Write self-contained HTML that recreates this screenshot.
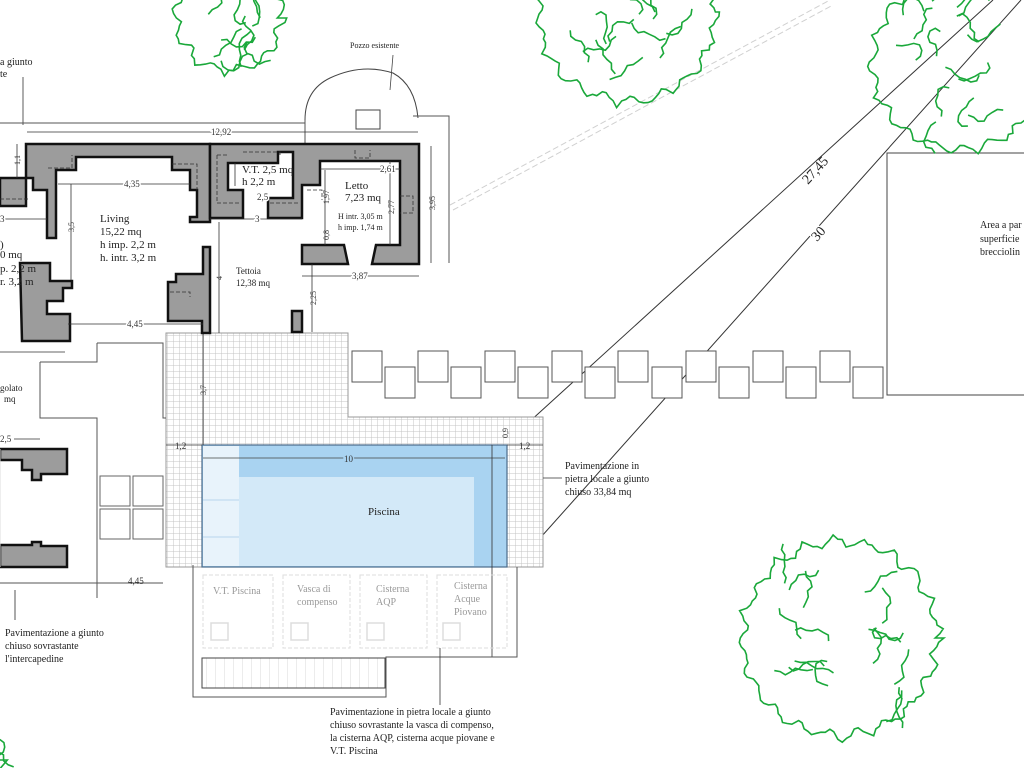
<!DOCTYPE html>
<html><head><meta charset="utf-8"><style>
html,body{margin:0;padding:0;background:#fff;}
svg{display:block;font-family:"Liberation Serif",serif;}
</style></head><body>
<svg id="s" width="1024" height="768" viewBox="0 0 1024 768" xmlns="http://www.w3.org/2000/svg">
<defs>
<pattern id="grid" width="6" height="6" patternUnits="userSpaceOnUse">
<rect width="6" height="6" fill="#fff"/>
<path d="M6 0V6M0 6H6" stroke="#c4c4c4" stroke-width="1"/>
</pattern>
<pattern id="grid2" width="9" height="30" patternUnits="userSpaceOnUse">
<path d="M9 0V30" stroke="#d8d8d8" stroke-width="1"/>
</pattern>
</defs>

<g stroke="#d0d0d0" stroke-width="1" stroke-dasharray="6,3" fill="none">
<line x1="450" y1="205" x2="830" y2="0"/>
<line x1="453" y1="210" x2="833" y2="5"/>
</g>

<g stroke="#333" stroke-width="1" fill="none">
<line x1="506" y1="443" x2="993" y2="0"/>
<line x1="516" y1="565" x2="1021" y2="0"/>
</g>
<text x="0" y="0" font-size="14" transform="translate(808,185) rotate(-48)" fill="#222">27,45</text>
<rect x="810" y="222" width="14" height="22" fill="#fff" transform="rotate(-48 817 233)"/>
<text x="0" y="0" font-size="14" transform="translate(817,242) rotate(-48)" fill="#222">30</text>

<rect x="887" y="153" width="150" height="242" fill="none" stroke="#444" stroke-width="1"/>
<text font-size="10" fill="#222"><tspan x="980" y="228">Area a par</tspan><tspan x="980" y="242">superficie</tspan><tspan x="980" y="255">brecciolin</tspan></text>

<g fill="#fff" stroke="#555" stroke-width="1">
<rect x="352" y="351" width="30" height="31"/><rect x="385" y="367" width="30" height="31"/>
<rect x="418" y="351" width="30" height="31"/><rect x="451" y="367" width="30" height="31"/>
<rect x="485" y="351" width="30" height="31"/><rect x="518" y="367" width="30" height="31"/>
<rect x="552" y="351" width="30" height="31"/><rect x="585" y="367" width="30" height="31"/>
<rect x="618" y="351" width="30" height="31"/><rect x="652" y="367" width="30" height="31"/>
<rect x="686" y="351" width="30" height="31"/><rect x="719" y="367" width="30" height="31"/>
<rect x="753" y="351" width="30" height="31"/><rect x="786" y="367" width="30" height="31"/>
<rect x="820" y="351" width="30" height="31"/><rect x="853" y="367" width="30" height="31"/>
</g>

<path d="M166 333H348V417H543V567H505V445H203V567H166Z" fill="url(#grid)" stroke="#999" stroke-width="1"/>

<rect x="202" y="445" width="305" height="122" fill="#a9d3f1" stroke="#4a6a8a" stroke-width="1.2"/>
<rect x="239" y="477" width="235" height="89" fill="#d3e9f8"/>
<rect x="203" y="446" width="36" height="120" fill="#e8f3fb"/>
<line x1="203" y1="500" x2="239" y2="500" stroke="#b8d6ee"/>
<line x1="203" y1="537" x2="239" y2="537" stroke="#b8d6ee"/>
<line x1="203" y1="458" x2="505" y2="458" stroke="#444" stroke-width="0.8"/>
<text x="344" y="462" font-size="9" fill="#333" style="paint-order:stroke" stroke="#a9d3f1" stroke-width="3">10</text>
<line x1="492" y1="445" x2="492" y2="657" stroke="#333" stroke-width="0.8"/>
<text x="368" y="515" font-size="11" fill="#222">Piscina</text>
<text x="175" y="449" font-size="9" fill="#333">1,2</text>
<line x1="166" y1="445" x2="202" y2="445" stroke="#333" stroke-width="0.8"/>
<text x="519" y="449" font-size="9" fill="#333">1,2</text>
<line x1="507" y1="445" x2="543" y2="445" stroke="#333" stroke-width="0.8"/>
<text x="0" y="0" font-size="8" transform="translate(508,438) rotate(-90)" fill="#333">0,9</text>
<text x="0" y="0" font-size="8" transform="translate(206,395) rotate(-90)" fill="#333">3,7</text>
<line x1="203" y1="333" x2="203" y2="445" stroke="#333" stroke-width="0.8"/>

<g fill="none" stroke="#ddd" stroke-width="1" stroke-dasharray="4,2">
<rect x="203" y="575" width="70" height="73"/><rect x="283" y="575" width="67" height="73"/>
<rect x="360" y="575" width="67" height="73"/><rect x="437" y="575" width="70" height="73"/>
</g>
<g fill="none" stroke="#ddd" stroke-width="1.5">
<rect x="211" y="623" width="17" height="17"/><rect x="291" y="623" width="17" height="17"/>
<rect x="367" y="623" width="17" height="17"/><rect x="443" y="623" width="17" height="17"/>
</g>
<g font-size="10" fill="#999">
<text x="213" y="594">V.T. Piscina</text>
<text x="297" y="592">Vasca di</text><text x="297" y="605">compenso</text>
<text x="376" y="592">Cisterna</text><text x="376" y="605">AQP</text>
<text x="454" y="589">Cisterna</text><text x="454" y="602">Acque</text><text x="454" y="615">Piovano</text>
</g>
<path d="M193 565V697H386V657H517V567" fill="none" stroke="#555" stroke-width="1"/>
<rect x="202" y="658" width="183" height="30" fill="url(#grid2)" stroke="#444" stroke-width="1"/>
<line x1="440" y1="648" x2="440" y2="705" stroke="#333" stroke-width="0.8"/>
<text font-size="10" fill="#222"><tspan x="330" y="715">Pavimentazione in pietra locale a giunto</tspan><tspan x="330" y="728">chiuso sovrastante la vasca di compenso,</tspan><tspan x="330" y="741">la cisterna AQP, cisterna acque piovane e</tspan><tspan x="330" y="754">V.T. Piscina</tspan></text>
<line x1="543" y1="478" x2="562" y2="478" stroke="#333" stroke-width="0.8"/>
<text font-size="10" fill="#222"><tspan x="565" y="469">Pavimentazione in</tspan><tspan x="565" y="482">pietra locale a giunto</tspan><tspan x="565" y="495">chiuso 33,84 mq</tspan></text>

<g fill="none" stroke="#555" stroke-width="1">
<path d="M97 343H163V418H166"/>
<path d="M40 362V418H97V598"/>
<path d="M97 343V362H40"/>
<line x1="0" y1="583" x2="163" y2="583"/>
<line x1="15" y1="590" x2="15" y2="620"/>
</g>
<g fill="#fff" stroke="#666" stroke-width="1">
<rect x="100" y="476" width="30" height="30"/><rect x="133" y="476" width="30" height="30"/>
<rect x="100" y="509" width="30" height="30"/><rect x="133" y="509" width="30" height="30"/>
</g>
<text x="128" y="584" font-size="9" fill="#333">4,45</text>
<text x="0" y="442" font-size="9" fill="#333">2,5</text>
<line x1="14" y1="439" x2="40" y2="439" stroke="#333" stroke-width="0.8"/>
<text font-size="9" fill="#222"><tspan x="0" y="391">golato</tspan><tspan x="4" y="402">mq</tspan></text>
<g fill="#9c9c9c" stroke="#111" stroke-width="2.5">
<path d="M0 449H67V474H41V480H32V470H22V460H0Z"/>
<path d="M0 545H32V542H41V546H67V567H0Z"/>
</g>
<line x1="0" y1="449" x2="0" y2="567" stroke="#ddd"/>
<text font-size="10" fill="#222"><tspan x="5" y="636">Pavimentazione a giunto</tspan><tspan x="5" y="649">chiuso sovrastante</tspan><tspan x="5" y="662">l'intercapedine</tspan></text>

<path d="M305 120 Q305 90 330 78 Q362 63 393 73 Q415 85 418 118" fill="none" stroke="#444" stroke-width="1"/>
<rect x="356" y="110" width="24" height="19" fill="none" stroke="#444"/>
<line x1="393" y1="55" x2="390" y2="90" stroke="#444" stroke-width="0.8"/>
<text x="350" y="48" font-size="8" fill="#222">Pozzo esistente</text>
<path d="M413 116H449V263" fill="none" stroke="#555"/>
<line x1="305" y1="120" x2="305" y2="143" stroke="#555"/>

<text font-size="10" fill="#222"><tspan x="0" y="65">a giunto</tspan><tspan x="0" y="77">te</tspan></text>
<line x1="23" y1="77" x2="23" y2="125" stroke="#333" stroke-width="0.8"/>
<line x1="0" y1="123" x2="305" y2="123" stroke="#555"/>
<line x1="27" y1="132" x2="418" y2="132" stroke="#333" stroke-width="0.8"/>
<text x="211" y="135" font-size="9" fill="#333" style="paint-order:stroke" stroke="#fff" stroke-width="3">12,92</text>

<g fill="#9c9c9c" stroke="#111" stroke-width="2.5" stroke-linejoin="miter">
<path d="M26 144H210V222H190V217H197V190H190V170H172V157H76V170H56V238H47V190H33V178H0V206H26Z"/>
<path d="M203 247H210V333H202V321H168V282H176V274H203Z"/>
<path d="M20 263H50V281H72V288H63V301H47V314H70V341H22Z" />
<path d="M210 144H419V264H372L376 245H400V161H320V185H302V218H268V198H293V152H278V163H228V190H243V218H210Z"/>
<path d="M302 245H344L348 264H302Z"/>
<rect x="292" y="311" width="10" height="21"/>
</g>
<g fill="none" stroke="#333" stroke-width="0.8" stroke-dasharray="4,2">
<path d="M48 168H72V155"/>
<path d="M172 164H197V190"/>
<path d="M217 155H228M217 155V203H240"/>
<path d="M243 152H280V155M270 203H300"/>
<path d="M355 150V158H370V150"/>
<path d="M400 196H413V213H400"/>
<path d="M307 190H322V200"/>
<path d="M170 292H190V297"/>
<path d="M0 199H30"/>
</g>

<g stroke="#333" stroke-width="0.8">
<line x1="58" y1="184" x2="190" y2="184"/>
<line x1="71" y1="184" x2="71" y2="280"/>
<line x1="210" y1="219" x2="302" y2="219"/>
<line x1="219" y1="222" x2="219" y2="333"/>
<line x1="68" y1="324" x2="203" y2="324"/>
<line x1="0" y1="219" x2="47" y2="219"/>
<line x1="320" y1="169" x2="400" y2="169"/>
<line x1="325" y1="170" x2="325" y2="245"/>
<line x1="390" y1="161" x2="390" y2="245"/>
<line x1="302" y1="276" x2="419" y2="276"/>
<line x1="431" y1="146" x2="431" y2="263"/>
<line x1="312" y1="264" x2="312" y2="332"/>
<line x1="17" y1="144" x2="17" y2="178"/>
<line x1="0" y1="352" x2="65" y2="352"/>
<line x1="235" y1="163" x2="235" y2="186"/>
</g>
<g font-size="9" fill="#333" style="paint-order:stroke" stroke="#fff" stroke-width="3">
<text x="124" y="187">4,35</text>
<text x="255" y="222">3</text>
<text x="127" y="327">4,45</text>
<text x="0" y="222">3</text>
<text x="380" y="172">2,61</text>
<text x="352" y="279">3,87</text>
<text x="257" y="200">2,5</text>
</g>
<g font-size="8" fill="#333">
<text transform="translate(74,232) rotate(-90)">3,5</text>
<text transform="translate(222,280) rotate(-90)">4</text>
<text transform="translate(329,204) rotate(-90)">1,97</text>
<text transform="translate(329,240) rotate(-90)">0,8</text>
<text transform="translate(394,214) rotate(-90)">2,77</text>
<text transform="translate(435,210) rotate(-90)">3,95</text>
<text transform="translate(316,305) rotate(-90)">2,25</text>
<text transform="translate(20,165) rotate(-90)">1,1</text>
</g>
<g fill="#222">
<text font-size="11"><tspan x="100" y="222">Living</tspan><tspan x="100" y="235">15,22 mq</tspan><tspan x="100" y="248">h imp. 2,2 m</tspan><tspan x="100" y="261">h. intr. 3,2 m</tspan></text>
<text font-size="11"><tspan x="0" y="248">)</tspan><tspan x="0" y="258">0 mq</tspan><tspan x="0" y="272">p. 2,2 m</tspan><tspan x="0" y="285">r. 3,2 m</tspan></text>
<text font-size="11"><tspan x="242" y="173">V.T. 2,5 mq</tspan><tspan x="242" y="185">h 2,2 m</tspan></text>
<text font-size="11"><tspan x="345" y="189">Letto</tspan><tspan x="345" y="201">7,23 mq</tspan></text>
<text font-size="8"><tspan x="338" y="219">H intr. 3,05 m</tspan><tspan x="338" y="230">h imp. 1,74 m</tspan></text>
<text font-size="9"><tspan x="236" y="274">Tettoia</tspan><tspan x="236" y="286">12,38 mq</tspan></text>
</g>

<g id="trees" fill="none" stroke="#1aa83a" stroke-width="1.6" stroke-linejoin="miter"></g>
</svg>
<script>
(function(){
var g=document.getElementById('trees');
var seed=11;function r(){seed=(seed*9301+49297)%233280;return seed/233280;}
function add(d){var p=document.createElementNS('http://www.w3.org/2000/svg','path');p.setAttribute('d',d);g.appendChild(p);}
function tree(cx,cy,R){
 var d='',N=Math.round(2*Math.PI*R/4.5);
 for(var i=0;i<=N;i++){
  var a=i/N*Math.PI*2;
  var ph=i%7;var tri=Math.abs(ph-3.5)/3.5;
  var rr=R-10+tri*10+(r()-0.5)*5;
  var x=cx+rr*Math.cos(a),y=cy+rr*Math.sin(a);
  d+=(i?'L':'M')+x.toFixed(1)+' '+y.toFixed(1);
 }
 add(d+'Z');
 var nl=Math.round(R/6);
 for(var j=0;j<nl;j++){
  var a2=r()*Math.PI*2,rd=R*(0.25+r()*0.55);
  var x0=cx+rd*Math.cos(a2),y0=cy+rd*Math.sin(a2),s='M'+x0.toFixed(1)+' '+y0.toFixed(1);
  var dir=a2+Math.PI/2;
  for(var m=0;m<7;m++){dir+= (r()-0.5)*2.2;x0+=Math.cos(dir)*6;y0+=Math.sin(dir)*6;s+='L'+x0.toFixed(1)+' '+y0.toFixed(1);}
  add(s);
 }
}
tree(229,18,57);tree(627,12,94);tree(960,62,92);tree(840,638,102);tree(-30,760,38);
})();
</script>
</body></html>
